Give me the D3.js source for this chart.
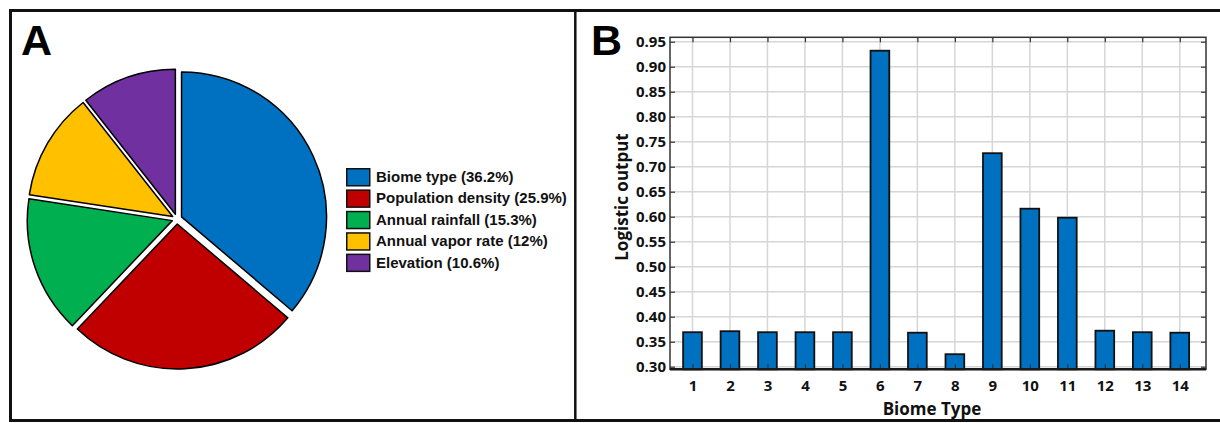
<!DOCTYPE html>
<html>
<head>
<meta charset="utf-8">
<script src="https://cdn.jsdelivr.net/npm/d3@7"></script>
<style>
  body { margin: 0; background: #fff; }
  svg { display: block; }
</style>
</head>
<body>
<div id="chart"></div>
<script>
// panel A data
const factorNames = ['Biome type', 'Population density', 'Annual rainfall', 'Annual vapor rate', 'Elevation'];
const factorShares = [36.2, 25.9, 15.3, 12, 10.6];
const factorColors = ['#0070C0', '#C00000', '#00B050', '#FFC000', '#7030A0'];

// panel B data
const biomeTypes = [1, 2, 3, 4, 5, 6, 7, 8, 9, 10, 11, 12, 13, 14];
const logisticOutput = [0.369, 0.371, 0.369, 0.369, 0.369, 0.932, 0.368, 0.325, 0.727, 0.616, 0.598, 0.372, 0.369, 0.368];
const yTicks = [0.30, 0.35, 0.40, 0.45, 0.50, 0.55, 0.60, 0.65, 0.70, 0.75, 0.80, 0.85, 0.90, 0.95];

const W = 1220, H = 423;

const svg = d3.select('#chart')
  .append('svg')
  .attr('width', W)
  .attr('height', H);

// outer frame + divider
svg.append('rect')
  .attr('x', 10.5).attr('y', 10.5)
  .attr('width', 1215).attr('height', 410)
  .attr('fill', 'none').attr('stroke', '#111').attr('stroke-width', 3);
svg.append('line')
  .attr('x1', 575.3).attr('x2', 575.3).attr('y1', 10).attr('y2', 421)
  .attr('stroke', '#111').attr('stroke-width', 2.5);

// panel letters
svg.append('text').text('A')
  .attr('x', 21).attr('y', 55)
  .style('font', 'bold 43px "Liberation Sans", Arial, sans-serif');
svg.append('text').text('B')
  .attr('x', 591).attr('y', 54.5)
  .style('font', 'bold 43px "Liberation Sans", Arial, sans-serif');

// ---- pie ----
const cx = 177, cy = 219, r = 145, explode = 5;

const pie = d3.pie().sort(null).value(d => d);
const arc = d3.arc().innerRadius(0).outerRadius(r);

const slices = svg.append('g')
  .attr('transform', `translate(${cx},${cy})`)
  .selectAll('path')
  .data(pie(factorShares))
  .join('path')
  .attr('d', arc)
  .attr('transform', d => {
    const mid = (d.startAngle + d.endAngle) / 2;
    return `translate(${explode * Math.sin(mid)},${-explode * Math.cos(mid)})`;
  })
  .attr('fill', (d, i) => factorColors[i])
  .attr('stroke', '#000')
  .attr('stroke-width', 1.5)
  .attr('stroke-linejoin', 'round');

// legend
const legend = svg.append('g').attr('transform', 'translate(346,168)');
const row = legend.selectAll('g')
  .data(factorNames)
  .join('g')
  .attr('transform', (d, i) => `translate(0,${i * 21.4})`);
row.append('rect')
  .attr('x', 0.75).attr('y', 0.75)
  .attr('width', 23).attr('height', 17)
  .attr('fill', (d, i) => factorColors[i])
  .attr('stroke', '#111').attr('stroke-width', 1.5);
row.append('text')
  .attr('x', 30).attr('y', 14)
  .text((d, i) => `${d} (${factorShares[i]}%)`)
  .style('font', 'bold 15px "Liberation Sans", Arial, sans-serif')
  .attr('fill', '#111');

// ---- bar chart ----
const pLeft = 670, pRight = 1206, pTop = 37.3, pBottom = 369.3;

const x = d3.scaleLinear().domain([0.4, 14.7]).range([pLeft, pRight]);
const y = d3.scaleLinear().domain([0.2948, 0.9588]).range([pBottom, pTop]);
const barW = x(0.5) - x(0);

const tickFont = 'bold 15px "Open Sans", sans-serif';

// grid
const grid = svg.append('g').attr('class', 'grid');
grid.selectAll('line.gy')
  .data(yTicks)
  .join('line')
  .attr('class', 'gy')
  .attr('x1', pLeft).attr('x2', pRight)
  .attr('y1', d => y(d)).attr('y2', d => y(d))
  .attr('stroke', '#d6d6d6').attr('stroke-width', 1.5);
grid.selectAll('line.gx')
  .data(biomeTypes)
  .join('line')
  .attr('class', 'gx')
  .attr('x1', d => x(d)).attr('x2', d => x(d))
  .attr('y1', pTop).attr('y2', pBottom)
  .attr('stroke', '#d6d6d6').attr('stroke-width', 1.5);

// bars
svg.append('g')
  .selectAll('rect')
  .data(logisticOutput)
  .join('rect')
  .attr('x', (d, i) => x(biomeTypes[i]) - barW / 2)
  .attr('y', d => y(d))
  .attr('width', barW)
  .attr('height', d => pBottom - y(d))
  .attr('fill', '#0070C0')
  .attr('stroke', '#111')
  .attr('stroke-width', 1.8);

// axes, ticks pointing inward like matlab
const yAxis = svg.append('g')
  .attr('transform', `translate(${pLeft},0)`)
  .call(d3.axisLeft(y).tickValues(yTicks).tickFormat(d3.format('.2f')).tickSize(-5).tickPadding(4));
const yAxisR = svg.append('g')
  .attr('transform', `translate(${pRight},0)`)
  .call(d3.axisRight(y).tickValues(yTicks).tickFormat('').tickSize(-5));
const xAxis = svg.append('g')
  .attr('transform', `translate(0,${pBottom})`)
  .call(d3.axisBottom(x).tickValues(biomeTypes).tickFormat(d3.format('d')).tickSize(-5).tickPadding(11));
const xAxisT = svg.append('g')
  .attr('transform', `translate(0,${pTop})`)
  .call(d3.axisTop(x).tickValues(biomeTypes).tickFormat('').tickSize(-5));

[yAxis, yAxisR, xAxis, xAxisT].forEach(a => {
  a.select('.domain').remove();
  a.selectAll('.tick line').attr('stroke', '#333').attr('stroke-width', 1.2);
  a.selectAll('.tick text').style('font', tickFont).attr('fill', '#111');
});

// box
svg.append('rect')
  .attr('x', pLeft).attr('y', pTop)
  .attr('width', pRight - pLeft).attr('height', pBottom - pTop)
  .attr('fill', 'none').attr('stroke', '#333').attr('stroke-width', 1.5);
svg.append('line')
  .attr('x1', pLeft).attr('x2', pRight).attr('y1', pBottom).attr('y2', pBottom)
  .attr('stroke', '#1a1a1a').attr('stroke-width', 2.5);

// axis titles
svg.append('text')
  .text('Biome Type')
  .attr('x', (pLeft + pRight) / 2 - 6)
  .attr('y', 415)
  .attr('text-anchor', 'middle')
  .style('font', 'bold 17px "Open Sans", sans-serif')
  .attr('fill', '#111');
svg.append('text')
  .text('Logistic output')
  .attr('transform', 'translate(628,197) rotate(-90)')
  .attr('text-anchor', 'middle')
  .style('font', 'bold 17px "Open Sans", sans-serif')
  .attr('fill', '#111');
</script>
</body>
</html>
